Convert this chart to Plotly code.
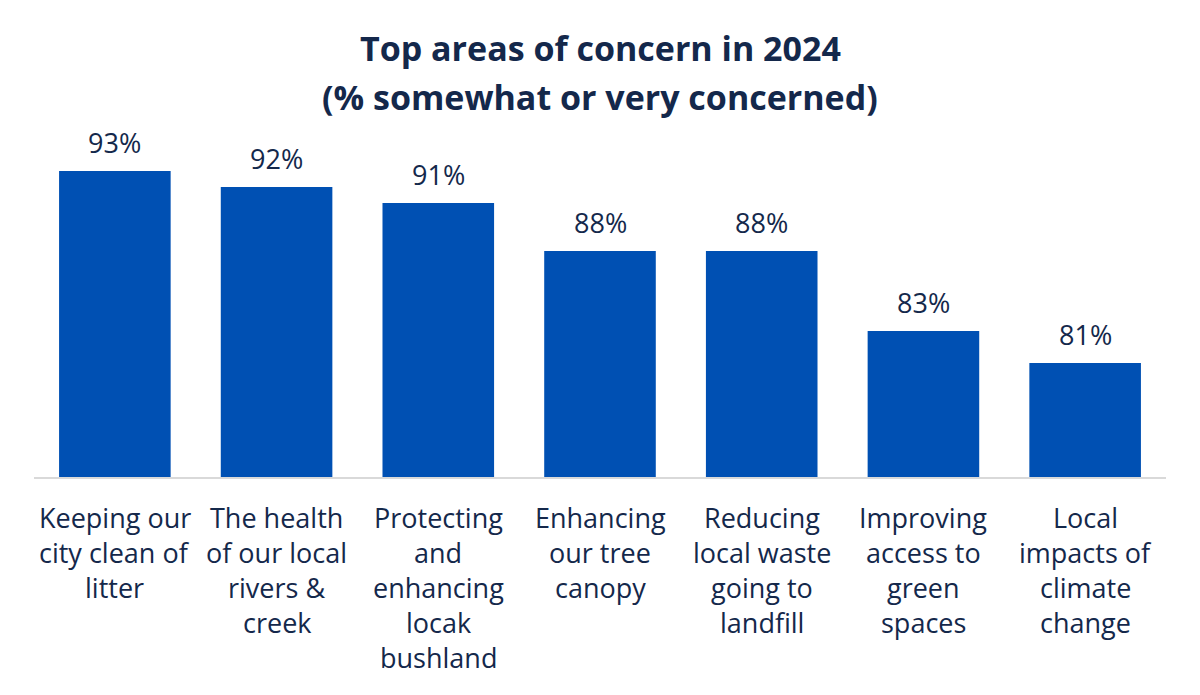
import plotly.graph_objects as go

categories = [
    "Keeping our|city clean of|litter",
    "The health|of our local|rivers &|creek",
    "Protecting|and|enhancing|locak|bushland",
    "Enhancing|our tree|canopy",
    "Reducing|local waste|going to|landfill",
    "Improving|access to|green|spaces",
    "Local|impacts of|climate|change",
]
values = [93, 92, 91, 88, 88, 83, 81]
value_labels = ["93%", "92%", "91%", "88%", "88%", "83%", "81%"]
title_lines = ["Top areas of concern in 2024", "(% somewhat or very concerned)"]

FONT = "Open Sans"
TEXT = "#14284b"
BAR = "#0050b3"

x = list(range(len(categories)))

fig = go.Figure()
fig.add_trace(go.Bar(x=x, y=values, marker=dict(color=BAR, line=dict(width=0)),
                     hoverinfo="skip"))

ann = []
for xi, v, lab in zip(x, values, value_labels):
    ann.append(dict(x=xi, y=v, xref="x", yref="y", text=lab, showarrow=False,
                    yanchor="middle", yshift=29,
                    font=dict(family=FONT, size=27, color=TEXT)))
for xi, cat in zip(x, categories):
    for i, line in enumerate(cat.split("|")):
        ann.append(dict(x=xi, y=0, xref="x", yref="paper", text=line, showarrow=False,
                        yanchor="middle", yshift=-(40 + 35 * i),
                        font=dict(family=FONT, size=27, color=TEXT)))
for i, t in enumerate(title_lines):
    ann.append(dict(x=0.5, y=1, xref="paper", yref="paper", text="<b>" + t + "</b>",
                    showarrow=False, yanchor="middle", yshift=(120 - 48) - 49 * i,
                    font=dict(family=FONT, size=34, color=TEXT)))

fig.update_layout(
    width=1200, height=695,
    margin=dict(l=0, r=0, t=120, b=218),
    paper_bgcolor="white", plot_bgcolor="white",
    bargap=0.31,
    showlegend=False,
    annotations=ann,
    xaxis=dict(domain=[34 / 1200, 1166 / 1200], range=[-0.5, len(categories) - 0.5],
               showticklabels=False, showgrid=False, zeroline=False,
               showline=True, linecolor="#d9d9d9", linewidth=2, ticks=""),
    yaxis=dict(range=[73.875, 73.875 + 357 / 16], showticklabels=False,
               showgrid=False, zeroline=False, showline=False),
)

fig.write_html("out.html")
